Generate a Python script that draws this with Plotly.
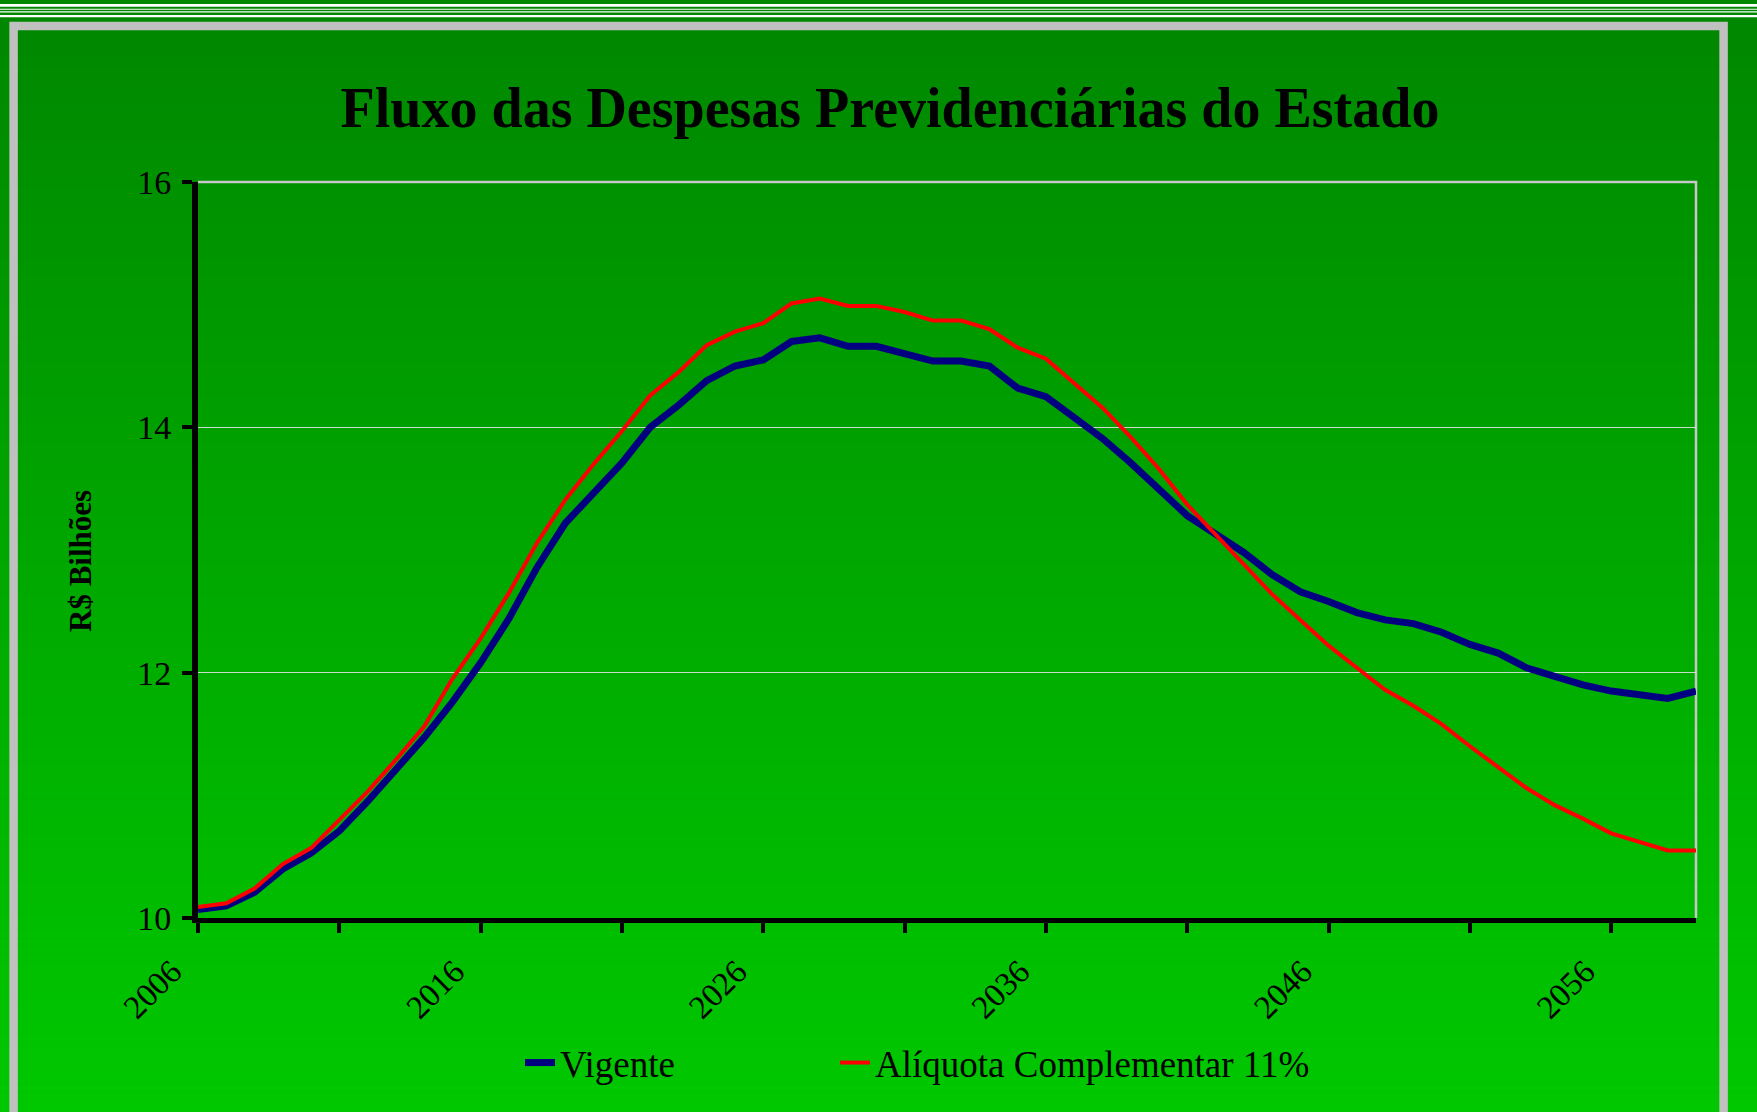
import plotly.graph_objects as go

# ---------------- data ----------------
years = list(range(2006, 2060))

vigente = [10.07, 10.10, 10.21, 10.40, 10.53, 10.71, 10.95, 11.21, 11.47, 11.76,
           12.08, 12.44, 12.86, 13.22, 13.46, 13.71, 14.00, 14.18, 14.38, 14.50,
           14.55, 14.70, 14.73, 14.66, 14.66, 14.60, 14.54, 14.54, 14.50, 14.32,
           14.25, 14.08, 13.91, 13.71, 13.50, 13.28, 13.13, 12.98, 12.80, 12.66,
           12.58, 12.49, 12.43, 12.40, 12.33, 12.23, 12.16, 12.04, 11.97, 11.90,
           11.85, 11.82, 11.79, 11.85]

aliquota = [10.09, 10.12, 10.24, 10.44, 10.57, 10.80, 11.03, 11.29, 11.56, 11.95,
            12.28, 12.65, 13.06, 13.41, 13.70, 13.97, 14.26, 14.45, 14.67, 14.78,
            14.85, 15.01, 15.05, 14.99, 14.99, 14.94, 14.87, 14.87, 14.80, 14.65,
            14.56, 14.36, 14.16, 13.92, 13.66, 13.37, 13.13, 12.88, 12.64, 12.43,
            12.22, 12.04, 11.86, 11.73, 11.58, 11.40, 11.23, 11.06, 10.92, 10.81,
            10.69, 10.62, 10.55, 10.55]

x_tick_vals = [2006, 2011, 2016, 2021, 2026, 2031, 2036, 2041, 2046, 2051, 2056]
x_tick_text = ["2006", "", "2016", "", "2026", "", "2036", "", "2046", "", "2056"]
y_tick_vals = [10, 12, 14, 16]
y_tick_text = ["10", "12", "14", "16"]

series_names = ["Vigente", "Alíquota Complementar 11%"]
title_text = "Fluxo das Despesas Previdenciárias do Estado"
y_title = "R$ Bilhões"

# ---------------- geometry (pixels) ----------------
FW, FH = 1757, 1112
L, R, T, B = 198, 1696, 182, 918
PW, PH = R - L, B - T


def px(x):
    return (x - L) / PW


def py(y):
    return (B - y) / PH


SERIF = "Times New Roman, Liberation Serif, serif"

shapes = []
# vertical green gradient background
N = 160
band = FH / N
for i in range(N):
    y0 = i * band
    y1 = (i + 1) * band + 0.6
    ym = (y0 + y1) / 2
    g = 136 + (200 - 136) * max(0.0, (ym - 30)) / (FH - 30)
    g = int(round(min(200, g)))
    shapes.append(dict(type="rect", xref="paper", yref="paper",
                       x0=px(-5), x1=px(FW + 5), y0=py(y1), y1=py(y0),
                       fillcolor=f"rgb(0,{g},0)", line=dict(width=0), layer="below"))

# white rules at the top
for (ya, yb) in [(4.0, 6.7), (8.7, 9.8), (11.3, 12.4), (15.0, 17.3)]:
    shapes.append(dict(type="rect", xref="paper", yref="paper",
                       x0=px(-5), x1=px(FW + 5), y0=py(yb), y1=py(ya),
                       fillcolor="white", line=dict(width=0), layer="below"))

# grey frame
shapes.append(dict(type="rect", xref="paper", yref="paper",
                   x0=px(13.6), x1=px(1723.6), y0=py(1140), y1=py(26.0),
                   fillcolor="rgba(0,0,0,0)", line=dict(color="#C0C0C0", width=8.5),
                   layer="below"))

# plot area top / right border
shapes.append(dict(type="path", xref="paper", yref="paper",
                   path=f"M {px(L)} {py(T)} L {px(R)} {py(T)} L {px(R)} {py(B)}",
                   line=dict(color="#C8C8C8", width=2.5), layer="below"))

fig = go.Figure()
fig.add_trace(go.Scatter(x=years, y=vigente, mode="lines", name=series_names[0],
                         line=dict(color="#000080", width=7), legend="legend"))
fig.add_trace(go.Scatter(x=years, y=aliquota, mode="lines", name=series_names[1],
                         line=dict(color="#FF0000", width=4), legend="legend2"))

legend_font = dict(family=SERIF, size=37, color="black")

fig.update_layout(
    width=FW, height=FH,
    margin=dict(l=L, r=FW - R, t=T, b=FH - B, autoexpand=False),
    paper_bgcolor="#008800",
    plot_bgcolor="rgba(0,0,0,0)",
    shapes=shapes,
    font=dict(family=SERIF, color="black"),
    title=dict(text=f"<b>{title_text}</b>", x=890 / FW, xref="container", xanchor="center",
               y=1 - 107 / FH, yref="container", yanchor="middle",
               font=dict(family=SERIF, size=56, color="black")),
    showlegend=True,
    legend=dict(orientation="h", x=px(520), y=py(1063), xanchor="left", yanchor="middle",
                bgcolor="rgba(0,0,0,0)", borderwidth=0, font=legend_font),
    legend2=dict(orientation="h", x=px(835), y=py(1063), xanchor="left", yanchor="middle",
                 bgcolor="rgba(0,0,0,0)", borderwidth=0, font=legend_font),
    xaxis=dict(range=[2006, 2059], tickmode="array", tickvals=x_tick_vals, ticktext=x_tick_text,
               showgrid=False, zeroline=False, showline=True, linecolor="black", linewidth=5,
               ticks="outside", ticklen=10, tickwidth=4, tickcolor="black",
               tickangle=-45, tickfont=dict(family=SERIF, size=33, color="black"),
               ticklabelshift=-26, ticklabelstandoff=6),
    yaxis=dict(range=[10, 16], tickmode="array", tickvals=y_tick_vals, ticktext=y_tick_text,
               showgrid=True, gridcolor="rgba(225,225,225,0.9)", gridwidth=1,
               zeroline=False, showline=True, linecolor="black", linewidth=6,
               ticks="outside", ticklen=10, tickwidth=4, tickcolor="black",
               tickfont=dict(family=SERIF, size=34, color="black"),
               ticklabelstandoff=4),
    annotations=[dict(text=f"<b>{y_title}</b>", xref="paper", yref="paper",
                      x=px(80), y=py(561), xanchor="center", yanchor="middle",
                      textangle=-90, showarrow=False,
                      font=dict(family=SERIF, size=31, color="black"))],
)

fig.write_html("out.html", config={"displayModeBar": False},
               post_script="document.body.style.margin='0px';")
